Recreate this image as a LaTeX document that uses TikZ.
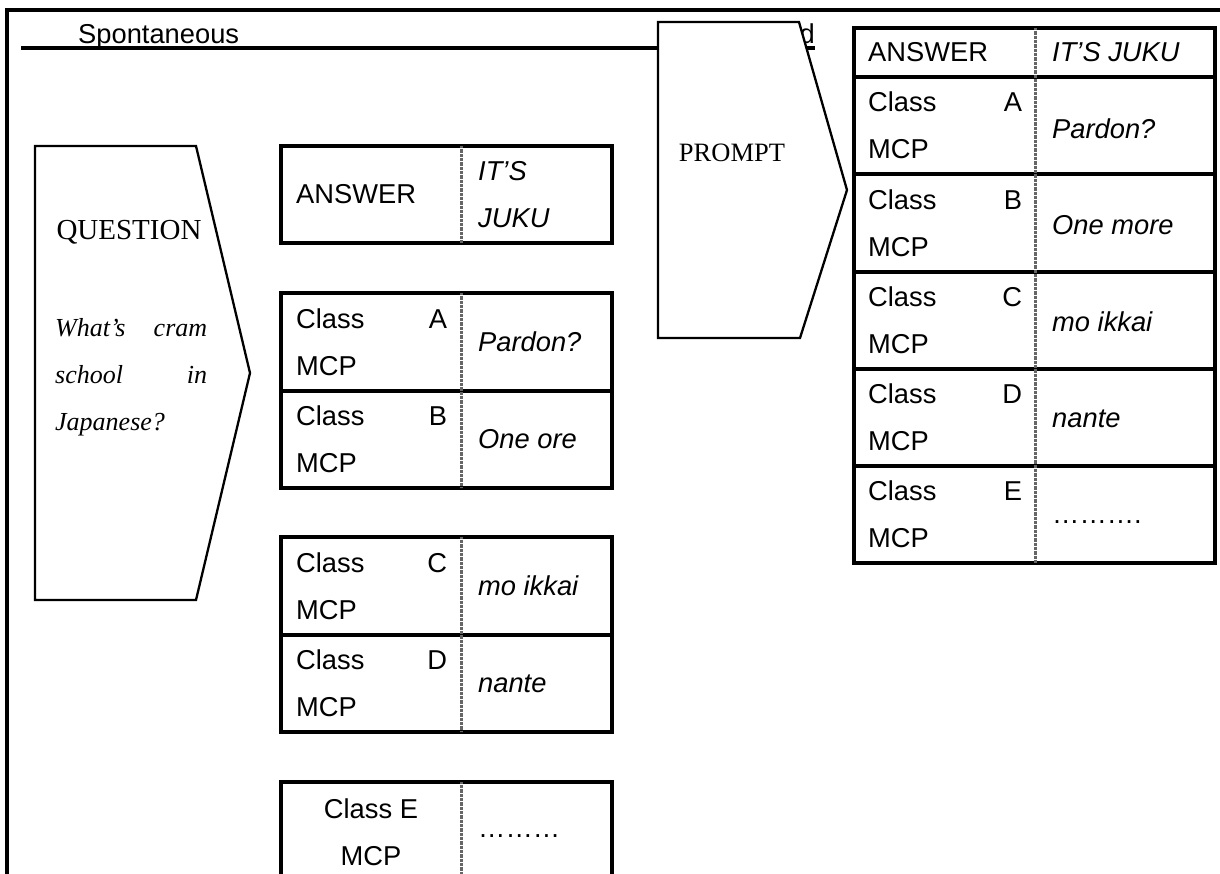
\documentclass[tikz,border=0pt]{standalone}
\usepackage{fontspec}
\setmainfont{Liberation Sans}
\newfontfamily\serifface{Liberation Serif}
\usetikzlibrary{calc}

\tikzset{
  frameline/.style={line width=3.2pt},
  tbl/.style={line width=3.2pt},
  divider/.style={draw=black!60, line width=3pt, dash pattern=on 0.9pt off 0.4pt},
  arrowshape/.style={draw, fill=white, line width=2.3pt, line join=miter},
  txt/.style={inner sep=0pt, font=\fontsize{27.3}{47}\selectfont},
  itx/.style={inner sep=0pt, font=\fontsize{27.3}{47}\selectfont\itshape},
  pairL/.style={txt, text width=151pt, align=left, anchor=west},
  pairR/.style={txt, text width=154pt, align=left, anchor=west},
  serifcap/.style={inner sep=0pt, font=\serifface\fontsize{29}{34}\selectfont},
  serifit/.style={inner sep=0pt, font=\serifface\itshape\fontsize{26}{47}\selectfont},
}

\begin{document}
\begin{tikzpicture}[x=1pt, y=-1pt]
  \clip (0,0) rectangle (1220,874);
  \fill[white] (0,0) rectangle (1220,874);

  % page frame
  \draw[frameline] (7,880) -- (7,10) -- (1230,10);

  % heading with its underline
  \node[txt, anchor=base west] (spont) at (78,44) {Spontaneous};
  \node[txt, anchor=base east] (tail) at (815,44) {d};
  \draw[frameline] (21,48) -- (815,48);

  % PROMPT arrow block
  \draw[arrowshape] (658,22) -- (799,22) -- (847,190) -- (800,338) -- (658,338) -- cycle;
  \node[serifcap, font=\serifface\fontsize{26.5}{32}\selectfont] (prompt) at (732,153) {PROMPT};

  % QUESTION arrow block
  \draw[arrowshape] (35,146) -- (196,146) -- (250,373) -- (196,600) -- (35,600) -- cycle;
  \node[serifcap] (question) at (129,232) {QUESTION};
  \node[serifit, text width=152pt, align=left, anchor=west] (qtext) at (55,377)
    {What’s\hfill cram\\school\hfill in\\Japanese?};

  % left column: answer table
  \draw[tbl] (281,146) rectangle (612,243);
  \draw[divider] (461,146) -- (461,243);
  \node[txt, anchor=west] (ansL) at (296,194.5) {ANSWER};
  \node[itx, align=left, anchor=west] (jukuL) at (478,194.5) {IT’S\\JUKU};

  % left column: classes A and B
  \draw[tbl] (281,293) rectangle (612,488);
  \draw[tbl] (281,391) -- (612,391);
  \draw[divider] (461,293) -- (461,488);
  \node[pairL] (aL) at (296,342) {Class\hfill A\\MCP};
  \node[itx, anchor=west] (aR) at (478,342) {Pardon?};
  \node[pairL] (bL) at (296,439.5) {Class\hfill B\\MCP};
  \node[itx, anchor=west] (bR) at (478,439.5) {One ore};

  % left column: classes C and D
  \draw[tbl] (281,537) rectangle (612,732);
  \draw[tbl] (281,635) -- (612,635);
  \draw[divider] (461,537) -- (461,732);
  \node[pairL] (cL) at (296,586) {Class\hfill C\\MCP};
  \node[itx, anchor=west] (cR) at (478,586) {mo ikkai};
  \node[pairL] (dL) at (296,683.5) {Class\hfill D\\MCP};
  \node[itx, anchor=west] (dR) at (478,683.5) {nante};

  % left column: class E
  \draw[tbl] (281,900) -- (281,782) -- (612,782) -- (612,900);
  \draw[divider] (461,782) -- (461,900);
  \node[txt, align=center] (eL) at (371,832) {Class E\\MCP};
  \node[txt, anchor=base west] (eR) at (478,837) {………};

  % right table
  \draw[tbl] (854,28) rectangle (1215,563);
  \foreach \yy in {77,174,272,369,466}
    \draw[tbl] (854,\yy) -- (1215,\yy);
  \draw[divider] (1035,28) -- (1035,563);
  \node[txt, anchor=west] (ansR) at (868,52.5) {ANSWER};
  \node[itx, anchor=west] (jukuR) at (1052,52.5) {IT’S JUKU};
  \node[pairR] (raL) at (868,125.5) {Class\hfill A\\MCP};
  \node[itx, anchor=west] (raR) at (1052,129) {Pardon?};
  \node[pairR] (rbL) at (868,223) {Class\hfill B\\MCP};
  \node[itx, anchor=west] (rbR) at (1052,225) {One more};
  \node[pairR] (rcL) at (868,320.5) {Class\hfill C\\MCP};
  \node[itx, anchor=west] (rcR) at (1052,322) {mo ikkai};
  \node[pairR] (rdL) at (868,417.5) {Class\hfill D\\MCP};
  \node[itx, anchor=west] (rdR) at (1052,419) {nante};
  \node[pairR] (reL) at (868,514.5) {Class\hfill E\\MCP};
  \node[txt, anchor=base west] (reR) at (1052,523) {……….};
\end{tikzpicture}
\end{document}
